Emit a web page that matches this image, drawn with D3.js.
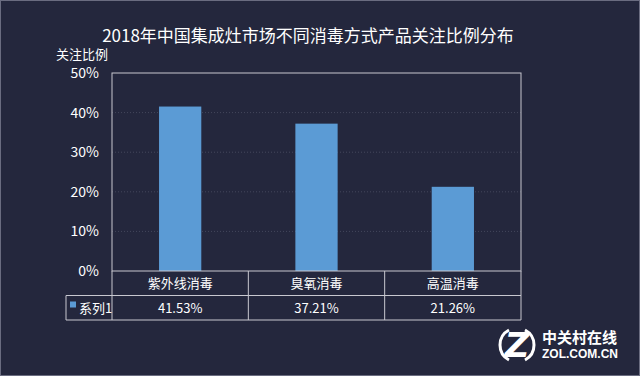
<!DOCTYPE html>
<html>
<head>
<meta charset="utf-8">
<script src="https://cdn.jsdelivr.net/npm/d3@7"></script>
<style>
  html, body { margin: 0; padding: 0; background: #24273d; }
  svg { display: block; font-family: "Noto Sans CJK SC", "Noto Sans", sans-serif; }
</style>
</head>
<body>
<svg class="svg" width="640" height="376"></svg>
<script>
var title = '2018年中国集成灶市场不同消毒方式产品关注比例分布';
var yTitle = '关注比例';
var seriesName = '系列1';
var categories = ['紫外线消毒', '臭氧消毒', '高温消毒'];
var values = [41.53, 37.21, 21.26];
var yTicks = [0, 10, 20, 30, 40, 50];

var width = 640, height = 376;
var margin = {left: 112, right: 119, top: 73, bottom: 105};
var lineColor = '#c8c8d0';

var svg = d3.select('.svg');

//background and thin outer frame
svg.append('rect')
  .attr('x', 0.5).attr('y', 0.5)
  .attr('width', width - 1).attr('height', height - 1)
  .attr('fill', '#24273d')
  .attr('stroke', '#6a6c80');

var x = d3.scaleBand()
  .domain(categories)
  .range([margin.left, width - margin.right])
  .paddingInner(0.69)
  .paddingOuter(0.345);

var y = d3.scaleLinear()
  .domain([0, 50])
  .range([height - margin.bottom, margin.top]);

var x0 = margin.left, x1 = width - margin.right;
var y0 = y(0), y1 = y(50);

//gridlines (dotted)
svg.append('g')
  .selectAll('line')
  .data(yTicks.slice(1, -1))
  .enter().append('line')
  .attr('x1', x0).attr('x2', x1)
  .attr('y1', d => y(d)).attr('y2', d => y(d))
  .attr('stroke', '#44475c')
  .attr('stroke-width', 1)
  .attr('stroke-dasharray', '1,2');

//bars
svg.append('g')
  .selectAll('rect')
  .data(values)
  .enter().append('rect')
  .attr('x', (d, i) => x(categories[i]))
  .attr('y', d => y(d))
  .attr('width', x.bandwidth())
  .attr('height', d => y(0) - y(d))
  .attr('fill', '#5b9bd5');

//plot frame
svg.append('rect')
  .attr('x', x0).attr('y', y1)
  .attr('width', x1 - x0).attr('height', y0 - y1)
  .attr('fill', 'none')
  .attr('stroke', lineColor)
  .attr('stroke-width', 1);

//y axis labels
var yAxis = d3.axisLeft(y)
  .tickValues(yTicks)
  .tickFormat(d => d + '%')
  .tickSize(0)
  .tickPadding(13);

svg.append('g')
  .attr('transform', 'translate(' + x0 + ',0)')
  .call(yAxis)
  .call(g => g.select('.domain').remove())
  .selectAll('text')
  .attr('fill', '#ffffff')
  .attr('font-size', 14)
  .style('font-family', '"Noto Sans CJK SC", sans-serif');

//titles
svg.append('text')
  .attr('x', 308).attr('y', 42)
  .attr('text-anchor', 'middle')
  .attr('fill', '#ffffff')
  .attr('font-size', 17)
  .text(title);

svg.append('text')
  .attr('x', 82).attr('y', 59)
  .attr('text-anchor', 'middle')
  .attr('fill', '#ffffff')
  .attr('font-size', 13)
  .text(yTitle);

//data table below the chart
var rowH = 24.5;
var colW = (x1 - x0) / categories.length;
var legendX = 66;
var table = svg.append('g').attr('stroke', lineColor).attr('stroke-width', 1).attr('fill', 'none');

//horizontal lines
table.append('line').attr('x1', x0).attr('x2', x1).attr('y1', y0 + rowH).attr('y2', y0 + rowH);
table.append('line').attr('x1', legendX).attr('x2', x0).attr('y1', y0 + rowH).attr('y2', y0 + rowH);
table.append('line').attr('x1', legendX).attr('x2', x1).attr('y1', y0 + rowH * 2).attr('y2', y0 + rowH * 2);
table.append('line').attr('x1', legendX).attr('x2', legendX).attr('y1', y0 + rowH).attr('y2', y0 + rowH * 2);

//vertical column lines
table.selectAll('.col')
  .data(d3.range(categories.length + 1))
  .enter().append('line')
  .attr('class', 'col')
  .attr('x1', i => x0 + i * colW).attr('x2', i => x0 + i * colW)
  .attr('y1', y0).attr('y2', y0 + rowH * 2);

svg.append('g')
  .selectAll('text')
  .data(categories)
  .enter().append('text')
  .attr('x', d => x(d) + x.bandwidth() / 2)
  .attr('y', y0 + rowH / 2 + 5)
  .attr('text-anchor', 'middle')
  .attr('fill', '#ffffff')
  .attr('font-size', 13)
  .text(d => d);

svg.append('g')
  .selectAll('text')
  .data(values)
  .enter().append('text')
  .attr('x', (d, i) => x(categories[i]) + x.bandwidth() / 2)
  .attr('y', y0 + rowH * 1.5 + 5)
  .attr('text-anchor', 'middle')
  .attr('fill', '#ffffff')
  .attr('font-size', 13)
  .text(d => d.toFixed(2) + '%');

//legend key
svg.append('rect')
  .attr('x', legendX + 4).attr('y', y0 + rowH + 6)
  .attr('width', 6).attr('height', 6)
  .attr('fill', '#5b9bd5');
svg.append('text')
  .attr('x', legendX + 13).attr('y', y0 + rowH * 1.5 + 5)
  .attr('fill', '#ffffff')
  .attr('font-size', 13)
  .text(seriesName);

//ZOL watermark
var wm = svg.append('g').attr('transform', 'translate(495,345)');
wm.append('path')
  .attr('d', 'M14,-15 A17,17 0 0,0 14,15')
  .attr('fill', 'none').attr('stroke', '#ffffff').attr('stroke-width', 3);
wm.append('path')
  .attr('d', 'M30,-15 A17,17 0 0,1 30,15')
  .attr('fill', 'none').attr('stroke', '#ffffff').attr('stroke-width', 3);
wm.append('text')
  .attr('x', 22).attr('y', 12)
  .attr('text-anchor', 'middle')
  .attr('fill', '#ffffff')
  .attr('font-size', 34)
  .attr('font-weight', 'bold')
  .attr('font-style', 'italic')
  .style('font-family', '"DejaVu Sans", sans-serif')
  .text('Z');
wm.append('text')
  .attr('x', 47).attr('y', -2)
  .attr('fill', '#ffffff')
  .attr('font-size', 15)
  .attr('font-weight', 'bold')
  .text('中关村在线');
wm.append('text')
  .attr('x', 47).attr('y', 13)
  .attr('fill', '#ffffff')
  .attr('font-size', 12)
  .attr('font-weight', 'bold')
  .style('font-family', '"Liberation Sans", sans-serif')
  .text('ZOL.COM.CN');
</script>
</body>
</html>
